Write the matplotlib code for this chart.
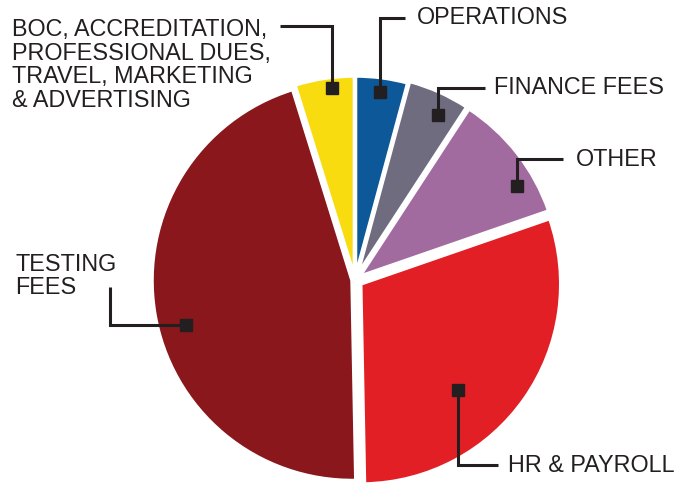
import matplotlib
matplotlib.use("Agg")
import matplotlib.pyplot as plt
import numpy as np

plt.rcParams['font.family'] = ['Liberation Sans', 'DejaVu Sans']

# slices, clockwise from 12 o'clock
labels = ["OPERATIONS", "FINANCE FEES", "OTHER", "HR & PAYROLL", "TESTING\nFEES",
          "BOC, ACCREDITATION,\nPROFESSIONAL DUES,\nTRAVEL, MARKETING\n& ADVERTISING"]
values = [4.2, 5.0, 10.5, 30.0, 45.5, 4.8]
colors = ["#0d5899", "#6f6c80", "#a26b9f", "#e31f26", "#89171b", "#f8dc10"]
explode = [0.02, 0.03, 0.03, 0.035, 0.015, 0.02]

# label layout (data units, pie radius = 1): marker, elbow, line end, text anchor
marker_pos = [(0.125, 0.94), (0.415, 0.825), (0.81, 0.47), (0.515, -0.55), (-0.845, -0.225), (-0.115, 0.96)]
elbow_pos = [(0.125, 1.31), (0.415, 0.96), (0.81, 0.605), (0.515, -0.925), (-1.225, -0.225), (-0.115, 1.27)]
end_pos = [(0.25, 1.31), (0.65, 0.96), (1.04, 0.605), (0.715, -0.925), (-1.225, -0.035), (-0.375, 1.27)]
text_pos = [(0.31, 1.31), (0.695, 0.96), (1.105, 0.605), (0.765, -0.93), (-1.70, 0.02), (-1.715, 1.075)]

fig = plt.figure(figsize=(6.89, 4.84), dpi=100)
ax = fig.add_axes([0, 0, 1, 1])
ax.pie(values, colors=colors, explode=explode, startangle=90, counterclock=False,
       radius=1.0, wedgeprops=dict(edgecolor="white", linewidth=2.5))

ink = "#231f20"
for lab, m, e, n, t in zip(labels, marker_pos, elbow_pos, end_pos, text_pos):
    ax.plot([m[0], e[0], n[0]], [m[1], e[1], n[1]], color=ink, lw=2.2, solid_capstyle="butt",
            solid_joinstyle="miter")
    ax.plot(m[0], m[1], marker="s", ms=8.5, color=ink)
    ax.text(t[0], t[1], lab, fontsize=16.8, color=ink, ha="left", va="center", linespacing=1.03)

ax.set_xlim(-1.775, 1.67)
ax.set_ylim(-1.02, 1.40)
ax.set_aspect("equal")
ax.axis("off")
fig.savefig("out.png", dpi=100, facecolor="white")
